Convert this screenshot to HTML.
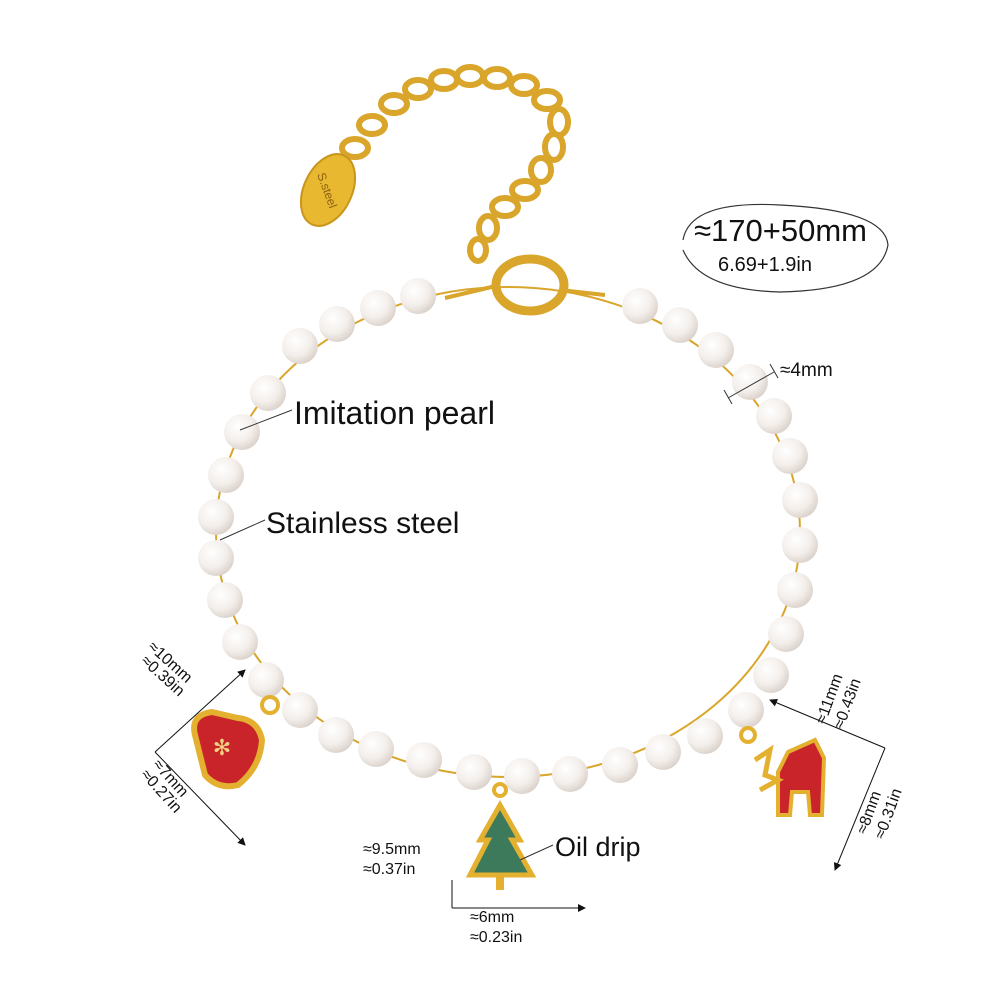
<!DOCTYPE html>
<html><head><meta charset="utf-8"><style>
html,body{margin:0;padding:0;background:#fff;}
svg{display:block;font-family:"Liberation Sans",sans-serif;}
</style></head><body>
<svg width="1000" height="1000" viewBox="0 0 1000 1000" xmlns="http://www.w3.org/2000/svg">
<defs>
<radialGradient id="pearl" cx="0.38" cy="0.35" r="0.7">
<stop offset="0" stop-color="#ffffff"/><stop offset="0.6" stop-color="#f3eeea"/><stop offset="1" stop-color="#d8cfc8"/>
</radialGradient>
<marker id="ar" markerWidth="8" markerHeight="8" refX="7" refY="4" orient="auto"><path d="M0,0 L8,4 L0,8 z" fill="#111"/></marker>
</defs>
<g fill="none" stroke="#d9a52a" stroke-width="6">
<ellipse cx="355" cy="148" rx="13" ry="9"/><ellipse cx="372" cy="125" rx="13" ry="9"/><ellipse cx="394" cy="104" rx="13" ry="9"/>
<ellipse cx="418" cy="89" rx="13" ry="9"/><ellipse cx="444" cy="80" rx="13" ry="9"/><ellipse cx="470" cy="76" rx="13" ry="9"/>
<ellipse cx="497" cy="78" rx="13" ry="9"/><ellipse cx="524" cy="85" rx="13" ry="9"/><ellipse cx="547" cy="100" rx="13" ry="9"/>
<ellipse cx="559" cy="122" rx="9" ry="13"/><ellipse cx="554" cy="147" rx="9" ry="13"/><ellipse cx="541" cy="170" rx="10" ry="12"/>
<ellipse cx="525" cy="190" rx="13" ry="9"/><ellipse cx="505" cy="207" rx="13" ry="9"/><ellipse cx="488" cy="228" rx="9" ry="12"/>
<ellipse cx="478" cy="250" rx="8" ry="11"/>
</g>
<ellipse cx="328" cy="190" rx="24" ry="38" transform="rotate(25 328 190)" fill="#e8b830" stroke="#c9951c" stroke-width="2"/>
<text x="328" y="195" font-size="12" fill="#8a6210" text-anchor="middle" transform="rotate(70 328 190)">S.steel</text>
<ellipse cx="530" cy="285" rx="34" ry="26" fill="none" stroke="#d9a52a" stroke-width="9"/>
<path d="M560 290 L605 295" stroke="#d9a52a" stroke-width="4"/>
<path d="M445 298 L500 285" stroke="#d9a52a" stroke-width="4"/>
<ellipse cx="508" cy="532" rx="292" ry="245" fill="none" stroke="#d9a52a" stroke-width="2"/>
<g fill="url(#pearl)">
<circle cx="418" cy="296" r="18"/><circle cx="378" cy="308" r="18"/><circle cx="337" cy="324" r="18"/><circle cx="300" cy="346" r="18"/>
<circle cx="268" cy="393" r="18"/><circle cx="242" cy="432" r="18"/><circle cx="226" cy="475" r="18"/><circle cx="216" cy="517" r="18"/>
<circle cx="216" cy="558" r="18"/><circle cx="225" cy="600" r="18"/><circle cx="240" cy="642" r="18"/><circle cx="266" cy="680" r="18"/>
<circle cx="300" cy="710" r="18"/><circle cx="336" cy="735" r="18"/><circle cx="376" cy="749" r="18"/><circle cx="424" cy="760" r="18"/>
<circle cx="474" cy="772" r="18"/><circle cx="522" cy="776" r="18"/><circle cx="570" cy="774" r="18"/><circle cx="620" cy="765" r="18"/>
<circle cx="663" cy="752" r="18"/><circle cx="705" cy="736" r="18"/><circle cx="746" cy="710" r="18"/><circle cx="771" cy="675" r="18"/>
<circle cx="786" cy="634" r="18"/><circle cx="795" cy="590" r="18"/><circle cx="800" cy="545" r="18"/><circle cx="800" cy="500" r="18"/>
<circle cx="790" cy="456" r="18"/><circle cx="774" cy="416" r="18"/><circle cx="750" cy="382" r="18"/><circle cx="716" cy="350" r="18"/>
<circle cx="680" cy="325" r="18"/><circle cx="640" cy="306" r="18"/>
</g>
<path d="M195 735 Q190 715 212 712 L238 718 Q258 720 262 740 Q260 768 238 785 Q218 790 205 775 Z" fill="#c8242a" stroke="#e4b030" stroke-width="6"/>
<circle cx="270" cy="705" r="8" fill="none" stroke="#e4b030" stroke-width="4"/>
<text x="222" y="755" font-size="22" fill="#f2d080" text-anchor="middle">✻</text>
<circle cx="500" cy="790" r="6" fill="none" stroke="#e4b030" stroke-width="4"/>
<path d="M500 805 L520 840 L512 840 L532 875 L470 875 L488 840 L480 840 Z" fill="#3d7a5c" stroke="#e4b030" stroke-width="5"/>
<path d="M500 875 L500 890" stroke="#e4b030" stroke-width="8"/>
<circle cx="748" cy="735" r="7" fill="none" stroke="#e4b030" stroke-width="4"/>
<path d="M788 752 L815 740 L824 758 L822 815 L810 815 L808 792 L792 792 L790 815 L778 815 L778 772 Z" fill="#c8242a" stroke="#e4b030" stroke-width="4"/>
<path d="M755 760 L770 750 L765 775 L778 780 L760 790" fill="none" stroke="#e4b030" stroke-width="5"/>
<g stroke="#333" stroke-width="1" fill="none">
<path d="M240 430 L292 410"/><path d="M220 540 L265 520"/><path d="M520 860 L553 845"/>
<path d="M728 398 L774 372" /><path d="M724 390 L732 404"/><path d="M770 364 L778 378"/>
</g>
<path d="M683 240 Q690 200 780 205 Q885 210 888 245 Q880 290 780 292 Q700 290 683 250" fill="none" stroke="#333" stroke-width="1.2"/>
<g stroke="#111" stroke-width="1" fill="none">
<line x1="155" y1="752" x2="245" y2="670" marker-end="url(#ar)"/>
<line x1="155" y1="752" x2="245" y2="845" marker-end="url(#ar)"/>
<line x1="885" y1="748" x2="770" y2="700" marker-end="url(#ar)"/>
<line x1="885" y1="748" x2="835" y2="870" marker-end="url(#ar)"/>
<line x1="452" y1="880" x2="452" y2="908"/>
<line x1="452" y1="908" x2="585" y2="908" marker-end="url(#ar)"/>
</g>
<g fill="#111">
<text x="694" y="241" font-size="31">≈170+50mm</text>
<text x="718" y="271" font-size="20">6.69+1.9in</text>
<text x="780" y="376" font-size="19">≈4mm</text>
<text x="294" y="424" font-size="32">Imitation pearl</text>
<text x="266" y="533" font-size="30">Stainless steel</text>
<text x="555" y="856" font-size="27">Oil drip</text>
<text x="363" y="854" font-size="16">≈9.5mm</text>
<text x="363" y="874" font-size="16">≈0.37in</text>
<text x="470" y="922" font-size="16">≈6mm</text>
<text x="470" y="942" font-size="16">≈0.23in</text>
<text x="0" y="0" font-size="16" transform="translate(147,648) rotate(42)">≈10mm</text>
<text x="0" y="0" font-size="16" transform="translate(140,662) rotate(42)">≈0.39in</text>
<text x="0" y="0" font-size="16" transform="translate(152,765) rotate(48)">≈7mm</text>
<text x="0" y="0" font-size="16" transform="translate(140,775) rotate(48)">≈0.27in</text>
<text x="0" y="0" font-size="16" transform="translate(825,725) rotate(-70)">≈11mm</text>
<text x="0" y="0" font-size="16" transform="translate(843,730) rotate(-70)">≈0.43in</text>
<text x="0" y="0" font-size="16" transform="translate(866,835) rotate(-70)">≈8mm</text>
<text x="0" y="0" font-size="16" transform="translate(884,840) rotate(-70)">≈0.31in</text>
</g>
</svg>
</body></html>
